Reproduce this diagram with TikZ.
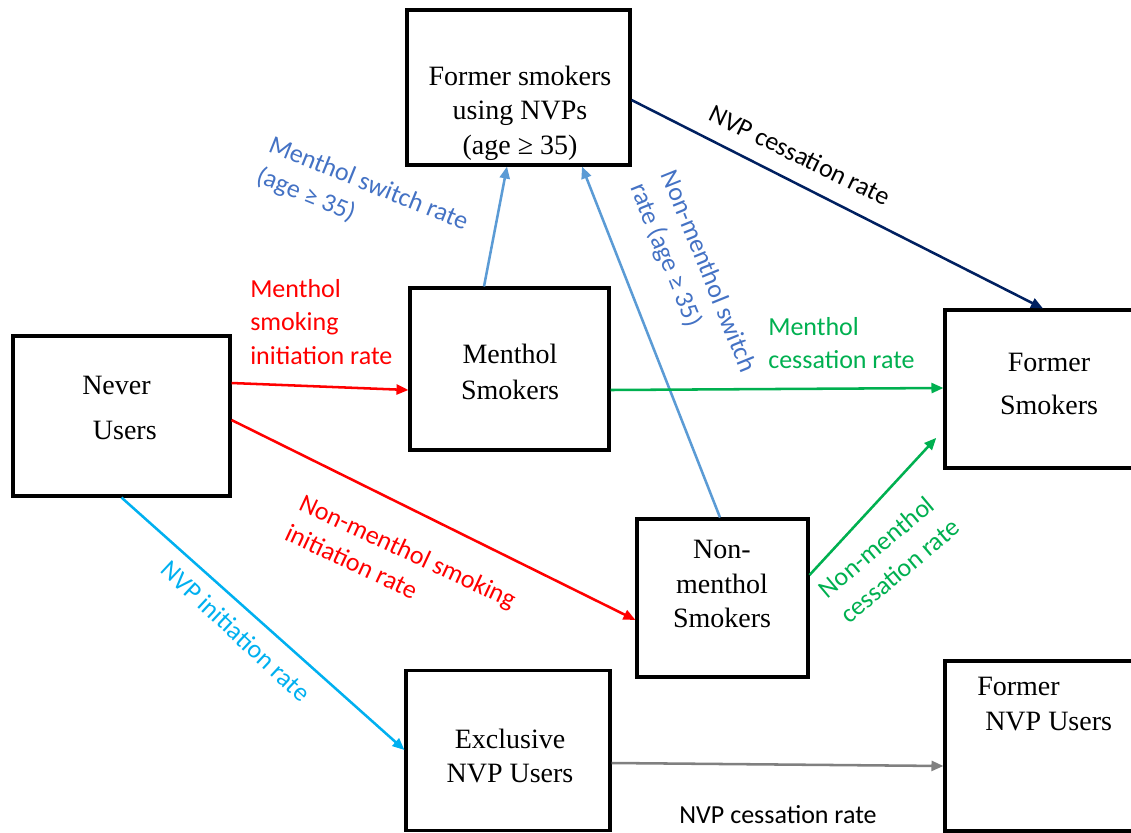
\documentclass[tikz,border=0pt]{standalone}
\usepackage{fontspec}
\setmainfont{Liberation Serif}
\newfontfamily\calibri{Carlito}
\usetikzlibrary{arrows.meta}

\definecolor{initred}{HTML}{FF0000}
\definecolor{cessgreen}{HTML}{00B050}
\definecolor{nvpcyan}{HTML}{00B0F0}
\definecolor{switchblue}{HTML}{5B9BD5}
\definecolor{switchtext}{HTML}{4472C4}
\definecolor{nvpnavy}{HTML}{002060}
\definecolor{nvpgray}{HTML}{808080}

\begin{document}
\begin{tikzpicture}[x=0.75pt, y=-0.75pt,
box/.style={draw, rectangle, line width=2.3pt, inner sep=0pt},
boxtext/.style={font=\fontsize{21}{26}\selectfont, align=center, inner sep=0pt},
rate/.style={font=\calibri\fontsize{19.5}{25}\selectfont, align=left, inner sep=0pt},
flow/.style={line width=1.9pt, -{Triangle[length=9pt, width=7.5pt]}}]
\useasboundingbox (0,0) rectangle (1131,832);
\clip (0,0) rectangle (1131,832);
%================================================================
% Boxes
\node[box, minimum width=162.75pt, minimum height=120pt] (never) at (121.5,416) {};
\node[box, minimum width=167.25pt, minimum height=116.25pt] (nvps) at (518.5,87.5) {};
\node[box, minimum width=149.25pt, minimum height=121.5pt] (menthol) at (509.5,369) {};
\node[box, minimum width=142.5pt, minimum height=118.5pt] (former) at (1040,389) {};
\node[box, minimum width=128.25pt, minimum height=118.5pt] (nonmenthol) at (722.5,598) {};
\node[box, minimum width=153pt, minimum height=120pt] (exclusive) at (508,750.5) {};
\node[box, minimum width=142.5pt, minimum height=127.5pt] (formernvp) at (1040,746) {};

% Box texts
\node[boxtext, align=left, anchor=west] (neverText) at (82,408) {Never\\[7.75pt]\hspace*{8pt}Users};
\node[boxtext] (nvpsText) at (520,113) {Former smokers\\using NVPs\\(age ≥ 35)};
\node[boxtext] (mentholText) at (510,372) {Menthol\\[1pt]Smokers};
\node[boxtext] (formerText) at (1049,384) {Former\\[6.25pt]Smokers};
\node[boxtext] (nonmentholText) at (722,584) {Non-\\menthol\\Smokers};
\node[boxtext] (exclusiveText) at (510,756) {Exclusive\\NVP Users};
\node[boxtext, align=left, anchor=west] (formernvpText) at (977,704) {Former\\\hspace*{6pt}NVP Users};

%================================================================
% Flows
\draw[flow, color=initred] (never.east |- 0,383) -- (menthol.west |- 0,390);
\draw[flow, color=initred] (never.east |- 0,420) -- (nonmenthol.west |- 0,620);
\draw[flow, color=nvpcyan] (never.south) -- (exclusive.west |- 0,750);
\draw[flow, color=switchblue] (menthol.north -| 484,0) -- (nvps.south -| 507,0);
\draw[flow, color=switchblue] (nonmenthol.north -| 720,0) -- (nvps.south -| 582,0);
\draw[flow, color=nvpnavy] (nvps.east |- 0,100) -- (former.north -| 1043,0);
\draw[flow, color=cessgreen] (menthol.east |- 0,390) -- (former.west |- 0,388);
\draw[flow, color=cessgreen, shorten >=8pt] (nonmenthol.east |- 0,575) -- (former.west |- 0,430);
\draw[flow, color=nvpgray] (exclusive.east |- 0,763) -- (formernvp.west |- 0,766);

%================================================================
% Rates
\node[rate, text=switchtext, rotate=-22] (mswitch) at (362,200) {Menthol switch rate\\(age ≥ 35)};
\node[rate, text=initred, anchor=west] (minit) at (250,322) {Menthol\\smoking\\initiation rate};
\node[rate, rotate=-26] (nvpcessTop) at (800,155) {NVP cessation rate};
\node[rate, text=switchtext, rotate=-68] (nmswitch) at (692,278) {Non-menthol switch\\rate (age ≥ 35)};
\node[rate, text=cessgreen, anchor=west] (mcess) at (768,343) {Menthol\\cessation rate};
\node[rate, text=cessgreen, rotate=40] (nmcess) at (889,558) {Non-menthol\\cessation rate};
\node[rate, text=initred, rotate=-25] (nminit) at (401,566) {Non-menthol smoking\\initiation rate};
\node[rate, text=nvpcyan, rotate=-43] (nvpinit) at (236,631) {NVP initiation rate};
\node[rate] (nvpcessBottom) at (778,815) {NVP cessation rate};

%================================================================
\end{tikzpicture}
\end{document}
